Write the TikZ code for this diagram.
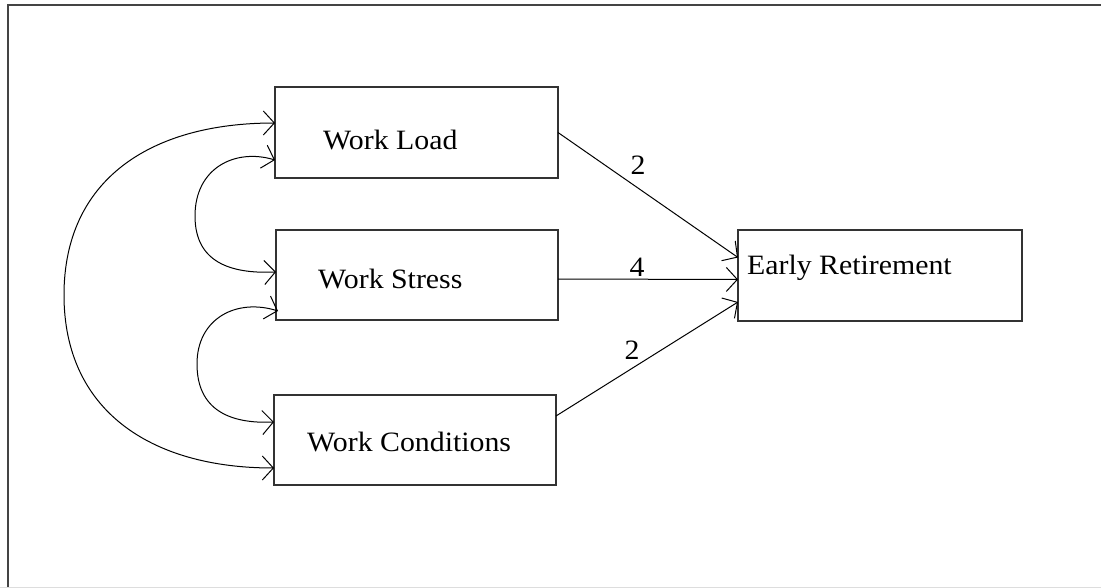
\documentclass[tikz,border=0pt]{standalone}
\usepackage{fontspec}
\setmainfont{Liberation Serif}[FakeStretch=1.065]
\usetikzlibrary{arrows.meta}
\definecolor{boxcol}{HTML}{333333}
\definecolor{framecol}{HTML}{444444}
\definecolor{edgecol}{HTML}{DDDDDD}
\begin{document}
\begin{tikzpicture}[x=1pt,y=-1pt,
  box/.style={draw=boxcol, line width=1.5pt, rectangle, inner sep=0pt, outer sep=0pt},
  lbl/.style={anchor=base west, inner sep=0pt, font=\fontsize{28}{32}\selectfont},
  num/.style={inner sep=0pt, font=\fontsize{28}{32}\selectfont},
  tipb/.tip={Straight Barb[length=11pt,width=24pt,line width=1pt]},
  arr/.style={draw=black, line width=1pt, -tipb},
  barr/.style={draw=black, line width=1pt, tipb-tipb}]
\useasboundingbox (0,0) rectangle (1101,588);
\fill[white] (0,0) rectangle (1101,588);
% outer frame
\draw[framecol, line width=2pt] (8,588) -- (8,5) -- (1101,5);
\draw[edgecol, line width=1pt] (0,587.5) -- (1101,587.5);

% boxes
\node[box, minimum width=283pt, minimum height=91pt] (WL) at (416.5,132.5) {};
\node[box, minimum width=282pt, minimum height=90pt] (WS) at (417,275) {};
\node[box, minimum width=282pt, minimum height=90pt] (WC) at (415,440) {};
\node[box, minimum width=284pt, minimum height=91pt] (ER) at (880,275.5) {};

% texts
\node[lbl] (tWL) at (323,150) {Work Load};
\node[lbl] (tWS) at (318,289) {Work Stress};
\node[lbl] (tWC) at (307,451) {Work Conditions};
\node[lbl] (tER) at (747,275) {Early Retirement};

% paths to Early Retirement
\draw[arr] (WL.east) -- ([yshift=18pt]ER.west);
\draw[arr] ([yshift=-4pt]WS.east) -- ([yshift=-4pt]ER.west);
\draw[arr] ([yshift=24pt]WC.east) -- ([yshift=-26.5pt]ER.west);

\node[num] (n1) at (638,165) {2};
\node[num] (n2) at (637,267) {4};
\node[num] (n3) at (632,350) {2};

% covariances
\draw[barr] ([yshift=9.5pt]WL.west) .. controls (150,123) and (64,180) .. (64,295)
  .. controls (64,410) and (150,468) .. ([yshift=-28pt]WC.west);
\draw[barr] ([yshift=-27.5pt]WL.west) .. controls (235,148) and (195,168) .. (195,216)
  .. controls (195,262) and (230,274) .. ([yshift=3pt]WS.west);
\draw[barr] ([xshift=2pt,yshift=-36pt]WS.west) .. controls (237,298) and (197,318) .. (197,364)
  .. controls (197,410) and (230,424) .. ([yshift=18pt]WC.west);
\end{tikzpicture}
\end{document}
